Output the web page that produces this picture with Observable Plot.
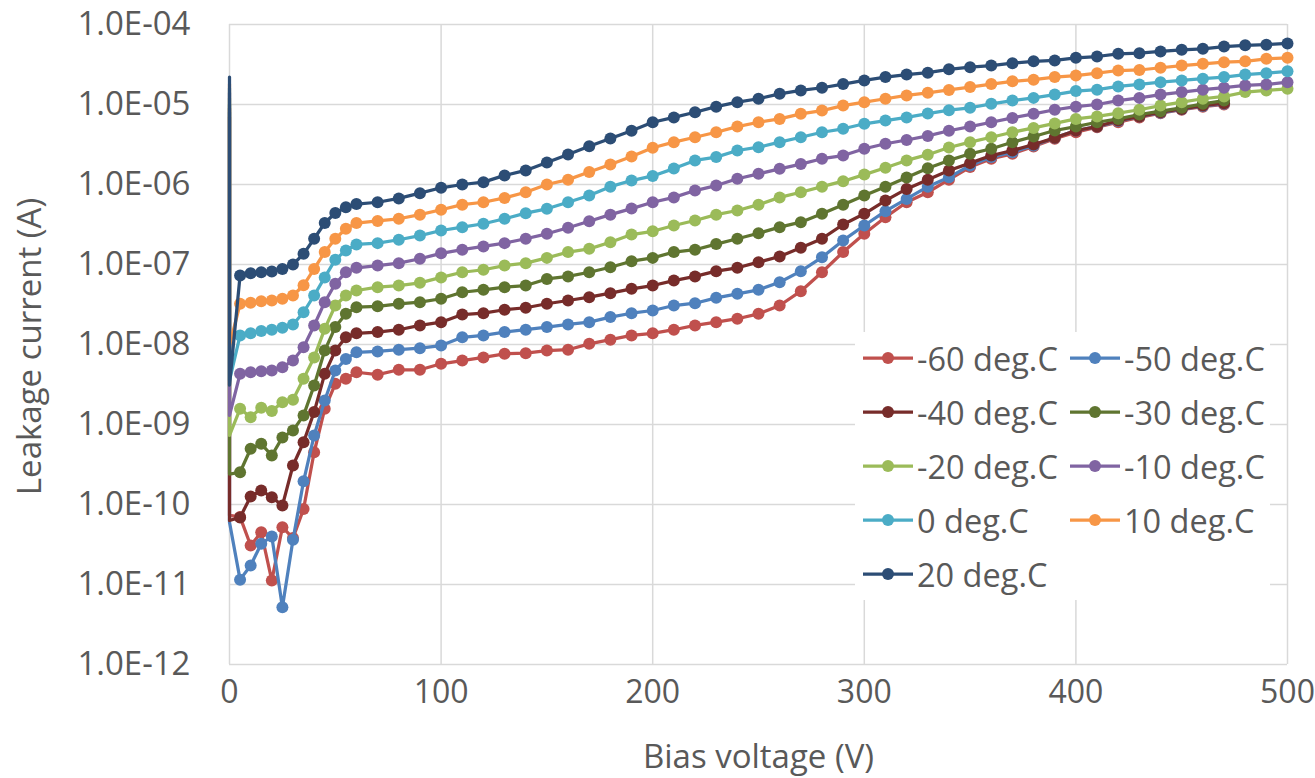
<!DOCTYPE html>
<html>
<head>
<meta charset="utf-8">
<script src="https://cdn.jsdelivr.net/npm/d3@7"></script>
<script src="https://cdn.jsdelivr.net/npm/@observablehq/plot@0.6"></script>
<style>
  html, body { margin: 0; padding: 0; background: #fff; overflow: hidden; }
  #wrap { position: relative; width: 1315px; height: 778px; font-family: 'Open Sans', sans-serif; }
  #legend { position: absolute; left: 855px; top: 332px; width: 415px; height: 268px; background: #fff; }
  .item { position: absolute; height: 40px; display: flex; align-items: center; }
  .item span { font-size: 32.5px; color: #595959; white-space: nowrap; margin-left: 4px; }
</style>
</head>
<body>
<div id="wrap"></div>
<script>
// Bias voltage (V); the first two entries are the two readings taken at 0 V
const volts = [0, 0,
  5, 10, 15, 20, 25, 30, 35, 40, 45, 50, 55, 60,
  70, 80, 90, 100, 110, 120, 130, 140, 150, 160,
  170, 180, 190, 200, 210, 220, 230, 240, 250, 260,
  270, 280, 290, 300, 310, 320, 330, 340, 350, 360,
  370, 380, 390, 400, 410, 420, 430, 440, 450, 460,
  470, 480, 490, 500];

const seriesNames = ["-60 deg.C", "-50 deg.C", "-40 deg.C", "-30 deg.C", "-20 deg.C",
                     "-10 deg.C", "0 deg.C", "10 deg.C", "20 deg.C"];
const seriesColors = ["#C0504D", "#4F81BD", "#772C2A", "#5F7530", "#9BBB59",
                      "#8064A2", "#4BACC6", "#F79646", "#2C4D75"];

// Leakage current (A)
const m60 = [7e-6, 7.3e-11,
  7.0e-11, 3.07e-11, 4.5e-11, 1.12e-11, 5.2e-11, 3.8e-11, 8.8e-11, 4.5e-10, 1.57e-9, 3.23e-9, 3.73e-9, 4.5e-9,
  4.2e-9, 4.83e-9, 4.83e-9, 5.74e-9, 6.3e-9, 6.9e-9, 7.65e-9, 7.8e-9, 8.4e-9, 8.6e-9,
  1.02e-8, 1.15e-8, 1.3e-8, 1.38e-8, 1.53e-8, 1.73e-8, 1.9e-8, 2.1e-8, 2.42e-8, 3.07e-8,
  4.64e-8, 8.0e-8, 1.43e-7, 2.42e-7, 3.9e-7, 6.0e-7, 8.0e-7, 1.15e-6, 1.65e-6, 2.1e-6,
  2.42e-6, 2.98e-6, 3.73e-6, 4.5e-6, 5.2e-6, 6.0e-6, 6.9e-6, 7.8e-6, 8.6e-6, 9.4e-6,
  1.0e-5];
const m50 = [8e-6, 6.0e-11,
  1.15e-11, 1.73e-11, 3.23e-11, 3.98e-11, 5.2e-12, 3.62e-11, 1.95e-10, 7.3e-10, 2.0e-9, 4.73e-9, 6.6e-9, 8.0e-9,
  8.2e-9, 8.6e-9, 9.0e-9, 9.7e-9, 1.23e-8, 1.3e-8, 1.43e-8, 1.53e-8, 1.65e-8, 1.78e-8,
  1.9e-8, 2.2e-8, 2.46e-8, 2.66e-8, 3.07e-8, 3.28e-8, 3.83e-8, 4.3e-8, 4.83e-8, 6.0e-8,
  8.25e-8, 1.23e-7, 2.0e-7, 3.07e-7, 4.64e-7, 6.6e-7, 9.4e-7, 1.23e-6, 1.73e-6, 2.2e-6,
  2.53e-6, 3.07e-6, 3.83e-6, 4.73e-6, 5.3e-6, 6.2e-6, 7.1e-6, 7.9e-6, 8.7e-6, 9.6e-6,
  1.02e-5];
const m40 = [9e-6, 6.3e-11,
  6.9e-11, 1.26e-10, 1.5e-10, 1.23e-10, 9.7e-11, 3.07e-10, 6.0e-10, 1.43e-9, 4.3e-9, 8.4e-9, 1.23e-8, 1.38e-8,
  1.43e-8, 1.53e-8, 1.73e-8, 1.9e-8, 2.37e-8, 2.46e-8, 2.72e-8, 2.88e-8, 3.23e-8, 3.55e-8,
  3.9e-8, 4.38e-8, 4.97e-8, 5.46e-8, 6.3e-8, 7.1e-8, 8.25e-8, 9.1e-8, 1.07e-7, 1.26e-7,
  1.62e-7, 2.1e-7, 3.16e-7, 4.3e-7, 6.3e-7, 8.8e-7, 1.15e-6, 1.5e-6, 1.85e-6, 2.3e-6,
  2.66e-6, 3.16e-6, 3.83e-6, 4.73e-6, 5.3e-6, 6.3e-6, 7.1e-6, 8.0e-6, 8.8e-6, 9.7e-6,
  1.04e-5];
const m30 = [1.0e-5, 2.4e-10,
  2.53e-10, 4.97e-10, 5.74e-10, 4.1e-10, 6.9e-10, 8.4e-10, 1.3e-9, 3.07e-9, 8.4e-9, 1.65e-8, 2.42e-8, 2.93e-8,
  3.0e-8, 3.23e-8, 3.38e-8, 3.73e-8, 4.5e-8, 4.83e-8, 5.2e-8, 5.46e-8, 6.6e-8, 7.1e-8,
  8.0e-8, 9.25e-8, 1.1e-7, 1.21e-7, 1.43e-7, 1.53e-7, 1.8e-7, 2.1e-7, 2.46e-7, 2.93e-7,
  3.38e-7, 4.3e-7, 5.6e-7, 7.3e-7, 9.4e-7, 1.22e-6, 1.6e-6, 2.0e-6, 2.42e-6, 2.8e-6,
  3.38e-6, 3.98e-6, 4.73e-6, 5.3e-6, 6.0e-6, 6.6e-6, 7.5e-6, 8.25e-6, 9.1e-6, 1.02e-5,
  1.12e-5];
const m20 = [1.2e-5, 7.3e-10,
  1.57e-9, 1.23e-9, 1.62e-9, 1.47e-9, 1.9e-9, 2.04e-9, 3.73e-9, 6.9e-9, 1.57e-8, 3.07e-8, 4.1e-8, 4.73e-8,
  5.2e-8, 5.46e-8, 5.9e-8, 6.9e-8, 8.0e-8, 8.6e-8, 9.7e-8, 1.04e-7, 1.21e-7, 1.43e-7,
  1.57e-7, 1.9e-7, 2.37e-7, 2.6e-7, 3.07e-7, 3.55e-7, 4.2e-7, 4.73e-7, 5.6e-7, 6.9e-7,
  8.0e-7, 9.4e-7, 1.1e-6, 1.33e-6, 1.62e-6, 2.0e-6, 2.36e-6, 2.9e-6, 3.38e-6, 3.9e-6,
  4.5e-6, 5.1e-6, 5.8e-6, 6.6e-6, 7.1e-6, 7.8e-6, 8.6e-6, 9.7e-6, 1.07e-5, 1.18e-5,
  1.26e-5, 1.43e-5, 1.5e-5, 1.57e-5];
const m10 = [1.4e-5, 1.3e-9,
  4.3e-9, 4.5e-9, 4.64e-9, 4.73e-9, 5.2e-9, 6.3e-9, 9.25e-9, 1.73e-8, 3.38e-8, 5.74e-8, 8.0e-8, 9.1e-8,
  9.7e-8, 1.04e-7, 1.18e-7, 1.38e-7, 1.53e-7, 1.68e-7, 1.85e-7, 2.1e-7, 2.42e-7, 2.88e-7,
  3.47e-7, 4.2e-7, 5.0e-7, 6.0e-7, 6.9e-7, 8.4e-7, 9.7e-7, 1.18e-6, 1.36e-6, 1.57e-6,
  1.8e-6, 2.1e-6, 2.3e-6, 2.8e-6, 3.23e-6, 3.6e-6, 4.05e-6, 4.7e-6, 5.3e-6, 6.0e-6,
  6.8e-6, 7.65e-6, 8.6e-6, 9.4e-6, 1.0e-5, 1.12e-5, 1.21e-5, 1.33e-5, 1.43e-5, 1.53e-5,
  1.62e-5, 1.73e-5, 1.78e-5, 1.9e-5];
const p0 = [1.6e-5, 3.55e-9,
  1.3e-8, 1.38e-8, 1.47e-8, 1.53e-8, 1.62e-8, 1.78e-8, 2.53e-8, 4.1e-8, 6.9e-8, 1.15e-7, 1.5e-7, 1.78e-7,
  1.85e-7, 2.04e-7, 2.3e-7, 2.66e-7, 2.93e-7, 3.23e-7, 3.73e-7, 4.38e-7, 4.97e-7, 6.0e-7,
  7.3e-7, 9.4e-7, 1.12e-6, 1.28e-6, 1.58e-6, 2.0e-6, 2.2e-6, 2.66e-6, 2.93e-6, 3.38e-6,
  3.9e-6, 4.5e-6, 4.97e-6, 5.74e-6, 6.3e-6, 6.9e-6, 7.7e-6, 8.5e-6, 9.1e-6, 1.02e-5,
  1.12e-5, 1.21e-5, 1.33e-5, 1.47e-5, 1.53e-5, 1.68e-5, 1.78e-5, 1.9e-5, 2.0e-5, 2.1e-5,
  2.2e-5, 2.37e-5, 2.46e-5, 2.6e-5];
const p10 = [1.8e-5, 9.7e-9,
  3.23e-8, 3.32e-8, 3.48e-8, 3.55e-8, 3.73e-8, 4.1e-8, 5.5e-8, 8.8e-8, 1.43e-7, 2.1e-7, 2.8e-7, 3.3e-7,
  3.5e-7, 3.73e-7, 4.2e-7, 4.83e-7, 5.6e-7, 6.0e-7, 6.8e-7, 8.0e-7, 1.0e-6, 1.15e-6,
  1.43e-6, 1.78e-6, 2.24e-6, 2.88e-6, 3.38e-6, 3.9e-6, 4.5e-6, 5.3e-6, 6.0e-6, 6.6e-6,
  7.65e-6, 8.4e-6, 9.7e-6, 1.07e-5, 1.18e-5, 1.3e-5, 1.4e-5, 1.52e-5, 1.65e-5, 1.8e-5,
  1.95e-5, 2.04e-5, 2.2e-5, 2.3e-5, 2.46e-5, 2.66e-5, 2.7e-5, 2.88e-5, 3.07e-5, 3.23e-5,
  3.38e-5, 3.47e-5, 3.73e-5, 3.83e-5];
const p20 = [2.2e-5, 3.1e-9,
  7.3e-8, 7.8e-8, 8.0e-8, 8.2e-8, 8.8e-8, 1.0e-7, 1.36e-7, 2.1e-7, 3.3e-7, 4.4e-7, 5.2e-7, 5.7e-7,
  6.0e-7, 6.7e-7, 7.8e-7, 9.1e-7, 1.0e-6, 1.07e-6, 1.3e-6, 1.5e-6, 1.88e-6, 2.37e-6,
  3.0e-6, 3.76e-6, 4.7e-6, 6.0e-6, 6.9e-6, 8.0e-6, 9.4e-6, 1.07e-5, 1.18e-5, 1.36e-5,
  1.5e-5, 1.62e-5, 1.8e-5, 2.0e-5, 2.2e-5, 2.37e-5, 2.5e-5, 2.75e-5, 2.93e-5, 3.07e-5,
  3.28e-5, 3.47e-5, 3.55e-5, 3.83e-5, 3.98e-5, 4.3e-5, 4.38e-5, 4.6e-5, 4.83e-5, 4.97e-5,
  5.3e-5, 5.5e-5, 5.6e-5, 5.8e-5];

const seriesValues = [m60, m50, m40, m30, m20, m10, p0, p10, p20];

const xTicks = [0, 100, 200, 300, 400, 500];
const yTicks = [1e-12, 1e-11, 1e-10, 1e-9, 1e-8, 1e-7, 1e-6, 1e-5, 1e-4];

const rows = seriesValues.map((vals, i) =>
  vals.map((v, j) => ({V: volts[j], I: v, s: seriesNames[i], k: j})));

const fmtY = d => "1.0E-" + String(Math.round(-Math.log10(d))).padStart(2, "0");
const textColor = "#595959";
const gridColor = "#D9D9D9";

const seriesMarks = rows.flatMap((r, i) => [
  Plot.line(r, {x: "V", y: "I", stroke: seriesColors[i], strokeWidth: 3.25, curve: "linear"}),
  Plot.dot(r.filter(d => d.k >= 2), {x: "V", y: "I", fill: seriesColors[i], stroke: "none", r: 6})
]);

const chart = Plot.plot({
  width: 1315,
  height: 778,
  marginLeft: 229,
  marginRight: 28,
  marginTop: 24,
  marginBottom: 114,
  style: {fontFamily: "'Open Sans', sans-serif", background: "#fff", color: textColor},
  x: {domain: [0, 500]},
  y: {type: "log", domain: [1e-12, 1e-4]},
  marks: [
    Plot.gridX(xTicks, {stroke: gridColor, strokeOpacity: 1, strokeWidth: 1.5}),
    Plot.gridY(yTicks, {stroke: gridColor, strokeOpacity: 1, strokeWidth: 1.5}),
    Plot.axisX(xTicks, {tickSize: 0, tickPadding: 16, fontSize: 32, fill: textColor, label: null}),
    Plot.axisY(yTicks, {tickSize: 0, tickPadding: 39, fontSize: 33, fill: textColor, tickFormat: fmtY, label: null}),
    ...seriesMarks,
    Plot.text(["Bias voltage (V)"], {text: d => d, frameAnchor: "bottom", dy: 93, fontSize: 33, fill: textColor, lineAnchor: "middle", textAnchor: "middle"}),
    Plot.text(["Leakage current (A)"], {text: d => d, frameAnchor: "left", dx: -199, dy: 2, rotate: -90, fontSize: 33, fill: textColor, lineAnchor: "middle", textAnchor: "middle"})
  ]
});

const wrap = document.getElementById("wrap");
wrap.appendChild(chart);

// Legend (two columns, five rows) drawn over the plot with a white box
const legend = document.createElement("div");
legend.id = "legend";
const rowTop = [26, 80, 134, 188, 242];
const colLeft = [8, 215];
seriesNames.forEach((name, i) => {
  const r = Math.floor(i / 2), c = i % 2;
  const item = document.createElement("div");
  item.className = "item";
  item.style.left = colLeft[c] + "px";
  item.style.top = (rowTop[r] - 20) + "px";
  const sw = document.createElementNS("http://www.w3.org/2000/svg", "svg");
  sw.setAttribute("width", 50);
  sw.setAttribute("height", 20);
  sw.innerHTML = `<line x1="0" y1="10" x2="50" y2="10" stroke="${seriesColors[i]}" stroke-width="3.25"/>` +
                 `<circle cx="25" cy="10" r="6" fill="${seriesColors[i]}"/>`;
  const label = document.createElement("span");
  label.textContent = name;
  item.appendChild(sw);
  item.appendChild(label);
  legend.appendChild(item);
});
wrap.appendChild(legend);
</script>
</body>
</html>
